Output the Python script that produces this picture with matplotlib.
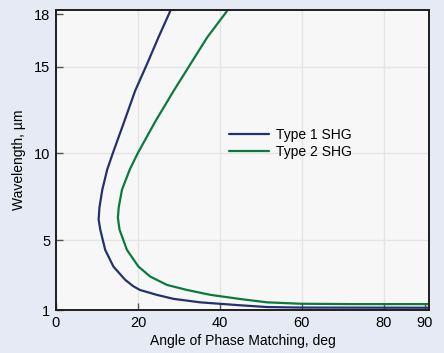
import matplotlib
matplotlib.use("Agg")
import matplotlib.pyplot as plt

plt.rcParams['font.family'] = ['Liberation Sans', 'DejaVu Sans']

# Type 1 SHG curve (angle deg, wavelength um)
type1_angle = [28.65, 28.1, 25.0, 22.2, 19.3, 16.7, 13.9, 12.5, 11.3, 10.6, 10.4, 10.8, 12.0, 14.0,
               16.9, 18.9, 20.5, 24.6, 28.7, 35.2, 45.0, 51.5, 59.7, 91.4]
type1_wl = [18.6, 18.31, 16.68, 15.14, 13.60, 11.87, 10.04, 9.08, 7.92, 6.9, 6.2, 5.62, 4.46, 3.50,
            2.73, 2.36, 2.15, 1.87, 1.64, 1.44, 1.27, 1.17, 1.14, 1.13]

# Type 2 SHG curve
type2_angle = [43.0, 42.1, 36.9, 32.8, 28.7, 24.3, 20.0, 18.0, 16.1, 15.3, 15.1, 15.5, 17.3, 20.1,
               23.0, 27.1, 32.0, 37.7, 45.0, 51.5, 59.7, 71.9, 91.4]
type2_wl = [18.6, 18.31, 16.68, 15.14, 13.60, 11.87, 10.04, 9.08, 7.92, 6.9, 6.3, 5.62, 4.46, 3.50,
            2.92, 2.44, 2.15, 1.87, 1.63, 1.44, 1.36, 1.34, 1.34]

series_names = ["Type 1 SHG", "Type 2 SHG"]
x_ticks = [0, 20, 40, 60, 80, 90]
y_ticks = [1, 5, 10, 15, 18]

fig = plt.figure(figsize=(4.44, 3.53), dpi=100, facecolor='#E5EAF5')
ax = fig.add_axes([56/444, 1-310/353, (429-56)/444, (310-10)/353])
ax.set_facecolor('#F7F7F7')

ax.plot(type1_angle, type1_wl, color='#25306E', lw=1.6, label=series_names[0],
        solid_joinstyle='round', solid_capstyle='round')
ax.plot(type2_angle, type2_wl, color='#0B7A3C', lw=1.6, label=series_names[1],
        solid_joinstyle='round', solid_capstyle='round')

ax.set_xlim(0, 91)
ax.set_ylim(1, 18.25)
ax.set_xticks(x_ticks)
ax.set_yticks(y_ticks)
ax.tick_params(direction='in', length=5, width=1, color='#555555', labelsize=10.5, pad=4)

for v in [20, 40, 60, 80]:
    ax.axvline(v, color='#E4E4E4', lw=1, zorder=0)
for v in [5, 10, 15]:
    ax.axhline(v, color='#E4E4E4', lw=1, zorder=0)

for s in ax.spines.values():
    s.set_color('#1E1E1E')
    s.set_linewidth(1.4)

ax.set_xlabel('Angle of Phase Matching, deg', fontsize=10, labelpad=3)
ax.set_ylabel('Wavelength, µm', fontsize=10, labelpad=6)

ax.legend(loc='upper left', bbox_to_anchor=((229-56)/373, (310-128)/300), frameon=False,
          fontsize=10, handlelength=2.9, handletextpad=0.45, labelspacing=0.2,
          borderpad=0, borderaxespad=0)

fig.savefig('out.png', dpi=100, facecolor=fig.get_facecolor())
